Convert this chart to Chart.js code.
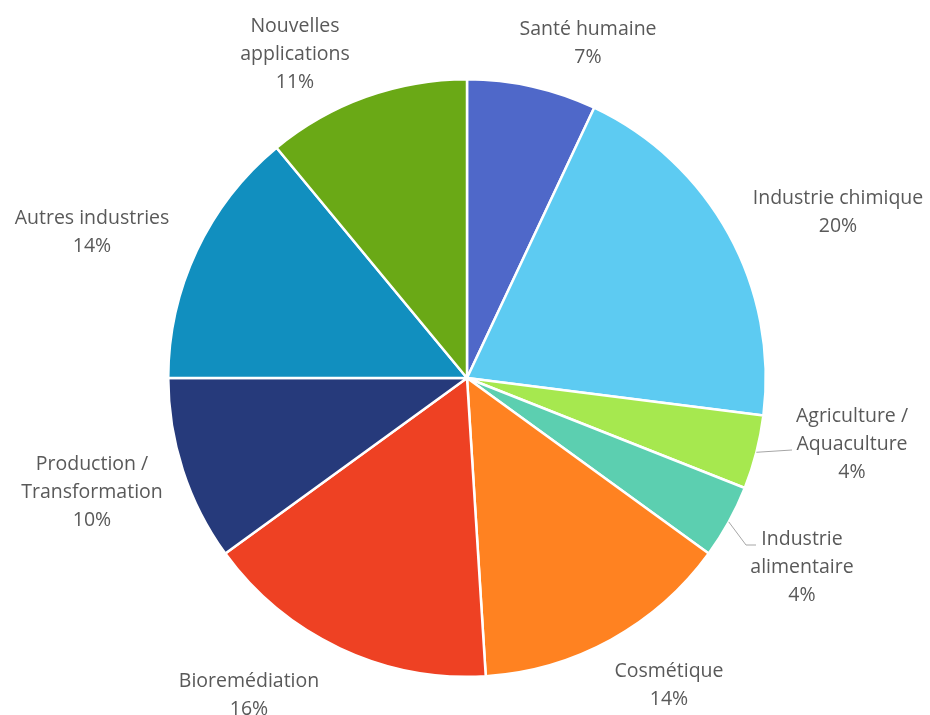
<!DOCTYPE html>
<html><head><meta charset="utf-8">
<script src="https://cdn.jsdelivr.net/npm/chart.js@4"></script>
<style>html,body{margin:0;padding:0;background:#fff}#wrap{width:930px;height:715px}</style>
</head><body><div id="wrap"><canvas id="c" width="930" height="715"></canvas></div>
<script>
const categories = ["Santé humaine","Industrie chimique","Agriculture / Aquaculture","Industrie alimentaire","Cosmétique","Bioremédiation","Production / Transformation","Autres industries","Nouvelles applications"];
const values = [7,20,4,4,14,16,10,14,11];
const labelLines = [["Santé humaine"],["Industrie chimique"],["Agriculture /","Aquaculture"],["Industrie","alimentaire"],["Cosmétique"],["Bioremédiation"],["Production /","Transformation"],["Autres industries"],["Nouvelles","applications"]];
const colors = ["#4F68C9","#5DCBF2","#A6E84F","#5CCFB0","#FF8221","#EE4123","#263A7B","#118FBF","#6AA916"];
// layout: label block center (first line y) and optional leader end
const labelPos = [[588,29],[838,198],[852,416],[802,539],[669,671],[249,681],[92,464],[92,218],[295,26]];
const leaders = {2:[[792,450]],3:[[746,545],[756,545]]};

const labelPlugin = {
  id:'lbl',
  afterDraw(chart){
    const ctx = chart.ctx;
    const meta = chart.getDatasetMeta(0);
    ctx.save();
    ctx.font = '19.5px "Open Sans", Lato, sans-serif';
    ctx.fillStyle = '#595959';
    ctx.textAlign = 'center';
    ctx.textBaseline = 'middle';
    const lh = 28.3;
    meta.data.forEach((arc,i)=>{
      const lines = labelLines[i].concat([values[i]+'%']);
      const [x,y] = labelPos[i];
      lines.forEach((t,k)=>ctx.fillText(t,x,y+k*lh));
      if (leaders[i]) {
        const mid = (arc.startAngle+arc.endAngle)/2;
        const r = arc.outerRadius;
        ctx.beginPath();
        ctx.strokeStyle = '#A6A6A6';
        ctx.lineWidth = 1;
        ctx.moveTo(arc.x+Math.cos(mid)*r, arc.y+Math.sin(mid)*r);
        leaders[i].forEach(p=>ctx.lineTo(p[0],p[1]));
        ctx.stroke();
      }
    });
    ctx.restore();
  }
};

new Chart(document.getElementById('c'),{
  type:'pie',
  data:{labels:categories,datasets:[{data:values,backgroundColor:colors,borderColor:'#fff',borderWidth:2.5}]},
  options:{
    responsive:false,animation:false,
    layout:{padding:{left:167,right:163,top:78,bottom:37}},
    plugins:{legend:{display:false},tooltip:{enabled:false}}
  },
  plugins:[labelPlugin]
});
</script></body></html>
